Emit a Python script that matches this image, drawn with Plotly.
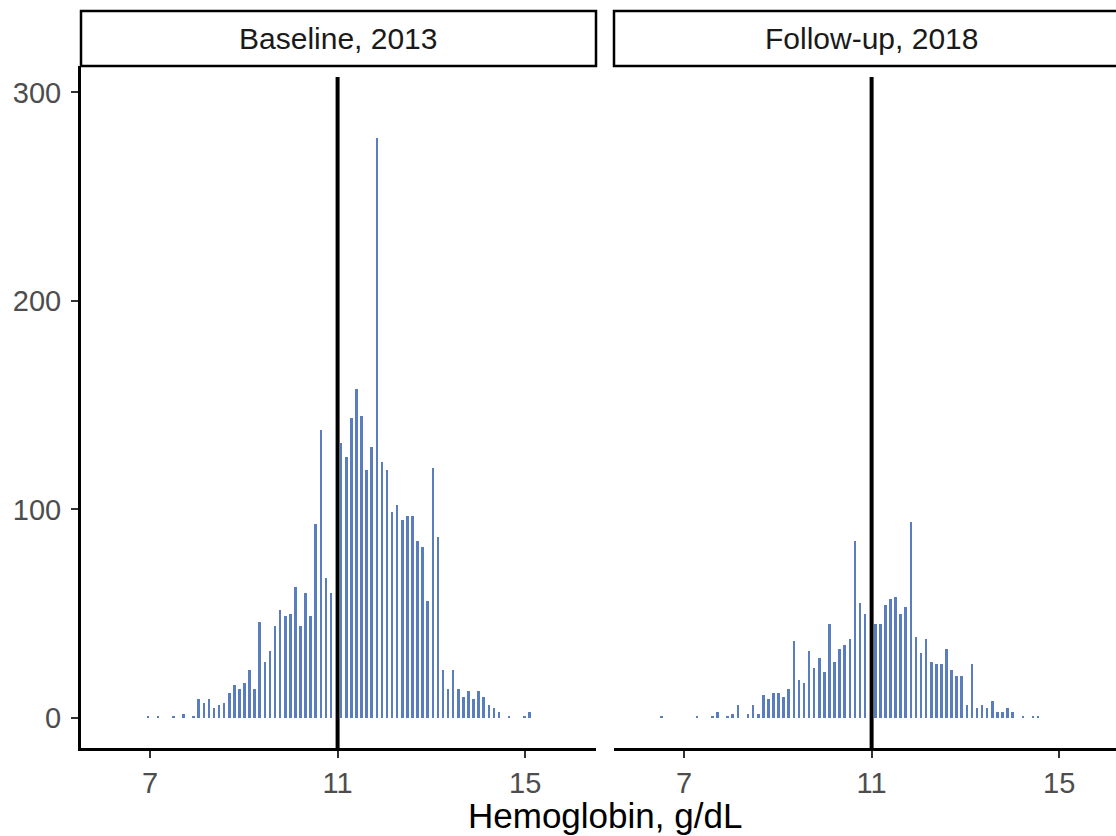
import plotly.graph_objects as go

# ---- data ----
panels = ["Baseline, 2013", "Follow-up, 2018"]
threshold_hb = 11

baseline_hb = [6.954, 7.171, 7.497, 7.714, 7.931, 8.039, 8.148, 8.256, 8.365, 8.473,
               8.582, 8.690, 8.799, 8.907, 9.016, 9.124, 9.233, 9.341, 9.450, 9.558,
               9.667, 9.775, 9.884, 9.992, 10.101, 10.209, 10.318, 10.426, 10.535, 10.643,
               10.752, 10.860, 11.077, 11.186, 11.294, 11.403, 11.511, 11.620, 11.728, 11.837,
               11.945, 12.054, 12.162, 12.271, 12.379, 12.488, 12.596, 12.705, 12.813, 12.922,
               13.030, 13.139, 13.247, 13.356, 13.464, 13.573, 13.681, 13.790, 13.898, 14.007,
               14.115, 14.224, 14.332, 14.441, 14.658, 14.983, 15.092]
baseline_n = [1, 1, 1, 2, 1, 9, 7, 9, 5, 6,
              7, 12, 16, 14, 17, 23, 14, 46, 27, 32,
              44, 52, 49, 50, 63, 44, 60, 49, 93, 138,
              67, 60, 132, 125, 144, 158, 145, 119, 130, 278,
              123, 119, 99, 102, 95, 97, 97, 85, 82, 56,
              120, 87, 23, 14, 23, 14, 10, 13, 9, 13,
              10, 6, 5, 3, 1, 1, 3]

followup_hb = [6.520, 7.280, 7.605, 7.714, 7.931, 8.039, 8.148, 8.365, 8.473, 8.582,
               8.690, 8.799, 8.907, 9.016, 9.124, 9.233, 9.341, 9.450, 9.558, 9.667,
               9.775, 9.884, 9.992, 10.101, 10.209, 10.318, 10.426, 10.535, 10.643, 10.752,
               10.860, 11.077, 11.186, 11.294, 11.403, 11.511, 11.620, 11.728, 11.837, 11.945,
               12.054, 12.162, 12.271, 12.379, 12.488, 12.596, 12.705, 12.813, 12.922, 13.030,
               13.139, 13.247, 13.356, 13.464, 13.573, 13.681, 13.790, 13.898, 14.007, 14.224,
               14.441, 14.549]
followup_n = [1, 1, 1, 3, 1, 2, 6, 2, 6, 2,
              11, 9, 12, 12, 10, 14, 37, 18, 17, 32,
              24, 29, 22, 45, 27, 33, 35, 38, 85, 55,
              50, 45, 45, 54, 57, 58, 50, 53, 94, 39,
              31, 38, 27, 26, 26, 33, 23, 20, 20, 6,
              26, 5, 6, 5, 8, 3, 3, 5, 3, 1,
              1, 1]

x_tick_vals = [7, 11, 15]
y_tick_vals = [0, 100, 200, 300]
x_title = "Hemoglobin, g/dL"

# ---- styling / layout ----
W, H = 1116, 836
BAR_COLOR = "#5A7DC0"
BAR_W = 0.055
FONT = "Liberation Sans, Arial, sans-serif"


def px_x(p):
    return p / W


def px_y(p):
    return (H - p) / H


left_dom = [px_x(81), px_x(596)]
right_dom = [px_x(614), 1.0]
y_dom = [px_y(748), px_y(66)]
left_range = [5.529, 16.51]
right_range = [5.507, 16.211]
y_range = [-14.4, 312.7]

fig = go.Figure()
fig.add_trace(go.Bar(x=baseline_hb, y=baseline_n, width=BAR_W,
                     marker=dict(color=BAR_COLOR, line=dict(width=0)),
                     xaxis="x", yaxis="y", showlegend=False))
fig.add_trace(go.Bar(x=followup_hb, y=followup_n, width=BAR_W,
                     marker=dict(color=BAR_COLOR, line=dict(width=0)),
                     xaxis="x2", yaxis="y2", showlegend=False))

tickfont = dict(family=FONT, size=29, color="#4D4D4D")
xax_common = dict(showgrid=False, zeroline=False, showline=True, linecolor="black",
                  linewidth=3, ticks="outside", ticklen=7, tickwidth=2, tickcolor="#333333",
                  tickvals=x_tick_vals, tickfont=tickfont, fixedrange=True)

fig.update_layout(
    width=W, height=H,
    margin=dict(l=0, r=0, t=0, b=0, pad=0),
    paper_bgcolor="white", plot_bgcolor="white",
    bargap=0,
    xaxis=dict(domain=left_dom, range=left_range, anchor="y", **xax_common),
    xaxis2=dict(domain=right_dom, range=right_range, anchor="y2", **xax_common),
    yaxis=dict(domain=y_dom, range=y_range, anchor="x", showgrid=False, zeroline=False,
               showline=True, linecolor="black", linewidth=3, ticks="outside", ticklen=7,
               tickwidth=2, tickcolor="#333333", tickvals=y_tick_vals, tickfont=tickfont,
               ticklabelstandoff=4),
    yaxis2=dict(domain=y_dom, range=y_range, anchor="x2", matches="y", showgrid=False,
                zeroline=False, showline=False, showticklabels=False, ticks=""),
)

shapes = []
annotations = []
strip_font = dict(family=FONT, size=30, color="#1A1A1A")
for (xd, name, xr) in [(left_dom, panels[0], "x"), (right_dom, panels[1], "x2")]:
    x1 = xd[1] if xr == "x" else 1.02
    shapes.append(dict(type="rect", xref="paper", yref="paper",
                       x0=xd[0], x1=x1, y0=px_y(66), y1=px_y(11),
                       line=dict(color="black", width=2.5), fillcolor="white", layer="above"))
    cx = (xd[0] + xd[1]) / 2 if xr == "x" else px_x((614 + 1129) / 2)
    annotations.append(dict(text=name, xref="paper", yref="paper", x=cx, y=px_y(38.5),
                            xanchor="center", yanchor="middle", showarrow=False, font=strip_font))
    yr = "y domain" if xr == "x" else "y2 domain"
    shapes.append(dict(type="line", xref=xr, yref=yr, x0=threshold_hb, x1=threshold_hb,
                       y0=0, y1=0.984, line=dict(color="black", width=4), layer="above"))

annotations.append(dict(text=x_title, xref="paper", yref="paper",
                        x=px_x((81 + 1129) / 2), y=0.0, xanchor="center", yanchor="bottom",
                        borderpad=0, showarrow=False,
                        font=dict(family=FONT, size=35, color="black")))

fig.update_layout(shapes=shapes, annotations=annotations)
fig.write_html("out.html")
